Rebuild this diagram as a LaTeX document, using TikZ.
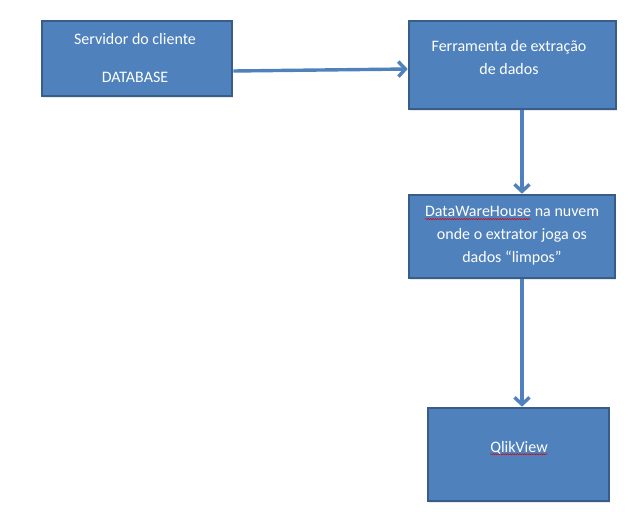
\documentclass[tikz,border=0pt]{standalone}
\usepackage{fontspec}
\setmainfont{Carlito}
\usetikzlibrary{arrows.meta,shadows,decorations.pathmorphing}
\definecolor{boxfill}{HTML}{4F81BD}
\definecolor{boxline}{HTML}{385D8A}
\definecolor{arrowc}{HTML}{4F81BD}
\newcommand\spellwave[1]{\tikz[baseline=(sw.base)]{\node[inner sep=0pt,outer sep=0pt,text=white] (sw) {#1};
  \draw[red!85!black, line width=0.5pt, decorate, decoration={snake,amplitude=0.6pt,segment length=2.4pt}]
    ([yshift=-2.2pt]sw.base west) -- ([yshift=-2.2pt]sw.base east);}}
\tikzset{
  box/.style={draw=boxline, line width=2.6pt, fill=boxfill, inner sep=0pt,
    drop shadow={opacity=0.18, shadow xshift=1pt, shadow yshift=-1.5pt}},
  boxtext/.style={text=white, align=center, inner sep=0pt,
    font=\fontsize{16}{23}\selectfont},
  link/.style={draw=arrowc, line width=3.4pt,
    -{Straight Barb[length=7pt,width=15pt,line width=3.4pt]}},
}
\begin{document}
\begin{tikzpicture}[x=1pt,y=-1pt]
\useasboundingbox (0,0) rectangle (641,512);
\fill[white] (0,0) rectangle (641,512);
\node[box, minimum width=190pt, minimum height=75pt] (b1) at (137,58.5) {};
\node[box, minimum width=207pt, minimum height=88pt] (b2) at (512.5,65) {};
\node[box, minimum width=206pt, minimum height=83pt] (b3) at (512,236.5) {};
\node[box, minimum width=181pt, minimum height=93pt] (b4) at (518.5,454.5) {};
\node[boxtext] (t1a) at (135,39) {Servidor do cliente};
\node[boxtext] (t1b) at (135,77) {DATABASE};
\node[boxtext] (t2) at (509,57.5) {Ferramenta de extração\\de dados};
\node[boxtext] (t3) at (512,236) {\spellwave{DataWareHouse} na nuvem\\onde o extrator joga os\\dados “limpos”};
\node[boxtext] (t4) at (519,448) {\spellwave{QlikView}};
\draw[link] ([yshift=-12.5pt]b1.east) -- ([yshift=-4pt]b2.west);
\draw[link] ([xshift=9.5pt]b2.south) -- ([xshift=10pt]b3.north);
\draw[link] ([xshift=10pt]b3.south) -- ([xshift=3.5pt]b4.north);
\end{tikzpicture}
\end{document}
